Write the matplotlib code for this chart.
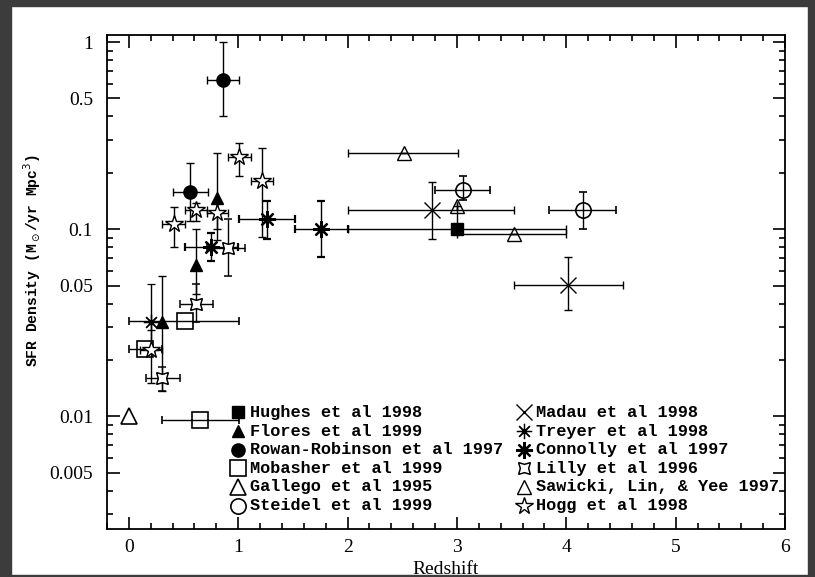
import matplotlib
matplotlib.use("Agg")
import matplotlib.pyplot as plt
import numpy as np
from matplotlib.patches import Rectangle

# values: redshift, SFR density and error limits
hughes_z = [3.0]
hughes_sfr = [0.100]
hughes_zlo = [2.0]
hughes_zhi = [4.0]

flores_z = [0.30, 0.61, 0.81]
flores_sfr = [0.032, 0.064, 0.147]
flores_lo = [0.0136, 0.045, 0.087]
flores_hi = [0.056, 0.100, 0.255]

rowan_z = [0.56, 0.86]
rowan_sfr = [0.158, 0.63]
rowan_zlo = [0.40, 0.71]
rowan_zhi = [0.72, 1.01]
rowan_lo = [0.11, 0.40]
rowan_hi = [0.226, 1.0]

mobasher_z = [0.15, 0.51, 0.654]
mobasher_sfr = [0.0229, 0.0325, 0.0096]
mobasher_zlo = [0.0, 0.0, 0.30]
mobasher_zhi = [0.30, 1.01, 1.01]

gallego_z = [0.0]
gallego_sfr = [0.0101]

steidel_z = [3.06, 4.15]
steidel_sfr = [0.162, 0.126]
steidel_zlo = [2.80, 3.84]
steidel_zhi = [3.30, 4.45]
steidel_lo = [0.143, 0.100]
steidel_hi = [0.193, 0.158]

madau_z = [2.77, 4.02]
madau_sfr = [0.126, 0.0506]
madau_zlo = [2.0, 3.52]
madau_zhi = [3.52, 4.52]
madau_lo = [0.089, 0.037]
madau_hi = [0.179, 0.0706]

treyer_z = [0.20]
treyer_sfr = [0.032]
treyer_lo = [0.022]
treyer_hi = [0.051]

connolly_z = [0.75, 1.26, 1.76]
connolly_sfr = [0.080, 0.113, 0.100]
connolly_zlo = [0.51, 1.01, 1.52]
connolly_zhi = [1.00, 1.52, 2.00]
connolly_lo = [0.068, 0.089, 0.0706]
connolly_hi = [0.095, 0.141, 0.141]

lilly_z = [0.30, 0.61, 0.905]
lilly_sfr = [0.016, 0.040, 0.079]
lilly_zlo = [0.156, 0.47, 0.71]
lilly_zhi = [0.47, 0.77, 1.06]
lilly_lo = [0.0136, 0.032, 0.056]
lilly_hi = [0.0184, 0.051, 0.113]

sawicki_z = [2.52, 3.0, 3.52]
sawicki_sfr = [0.254, 0.133, 0.094]
sawicki_zlo = [2.0, 3.0, 3.0]
sawicki_zhi = [3.01, 3.0, 4.0]
sawicki_lo = [0.254, 0.100, 0.094]
sawicki_hi = [0.254, 0.133, 0.094]

hogg_z = [0.20, 0.41, 0.61, 0.81, 1.01, 1.22]
hogg_sfr = [0.0225, 0.106, 0.126, 0.122, 0.244, 0.18]
hogg_zlo = [0.10, 0.30, 0.51, 0.71, 0.91, 1.12]
hogg_zhi = [0.30, 0.51, 0.71, 0.91, 1.12, 1.32]
hogg_lo = [0.015, 0.080, 0.110, 0.100, 0.193, 0.091]
hogg_hi = [0.029, 0.132, 0.138, 0.140, 0.290, 0.273]

left_labels = ["Hughes et al 1998", "Flores et al 1999", "Rowan-Robinson et al 1997",
               "Mobasher et al 1999", "Gallego et al 1995", "Steidel et al 1999"]
right_labels = ["Madau et al 1998", "Treyer et al 1998", "Connolly et al 1997",
                "Lilly et al 1996", "Sawicki, Lin, & Yee 1997", "Hogg et al 1998"]

yticks = [1, 0.5, 0.1, 0.05, 0.01, 0.005]
ytick_labels = ["1", "0.5", "0.1", "0.05", "0.01", "0.005"]
xticks = [0, 1, 2, 3, 4, 5, 6]

# marker styles
K = "black"
asterisk = (8, 2, 0)
styles = {
    "hughes": dict(marker="s", ms=8, mfc=K, mec=K),
    "flores": dict(marker="^", ms=9, mfc=K, mec=K),
    "rowan": dict(marker="o", ms=9.5, mfc=K, mec=K),
    "mobasher": dict(marker="s", ms=11, mfc="none", mec=K, mew=1.2),
    "gallego": dict(marker="^", ms=12, mfc="none", mec=K, mew=1.2),
    "steidel": dict(marker="o", ms=11, mfc="none", mec=K, mew=1.2),
    "madau": dict(marker="x", ms=12, mfc="none", mec=K, mew=1.0),
    "treyer": dict(marker=asterisk, ms=11, mfc="none", mec=K, mew=0.9),
    "connolly": dict(marker=asterisk, ms=12, mfc="none", mec=K, mew=1.6),
    "lilly": dict(marker=(4, 1, 45), ms=12, mfc="white", mec=K, mew=1.1),
    "sawicki": dict(marker="^", ms=10, mfc="none", mec=K, mew=1.0),
    "hogg": dict(marker="*", ms=13, mfc="white", mec=K, mew=1.0),
}

plt.rcParams["font.family"] = ["Liberation Serif", "DejaVu Serif"]

fig = plt.figure(figsize=(8.15, 5.77), dpi=100)
fig.patch.set_facecolor("white")
ax = fig.add_axes([107 / 815, 1 - 529 / 577, 678 / 815, 494 / 577])


def err(vals, lo, hi):
    vals = np.asarray(vals, float)
    return [vals - np.asarray(lo, float), np.asarray(hi, float) - vals]


def draw(z, sfr, style, zlo=None, zhi=None, lo=None, hi=None):
    xe = err(z, zlo, zhi) if zlo is not None else None
    ye = err(sfr, lo, hi) if lo is not None else None
    ax.errorbar(z, sfr, xerr=xe, yerr=ye, ls="none", ecolor=K, elinewidth=1.0,
                capsize=3, capthick=1.0, zorder=3, **styles[style])


draw(hughes_z, hughes_sfr, "hughes", hughes_zlo, hughes_zhi)
draw(flores_z, flores_sfr, "flores", lo=flores_lo, hi=flores_hi)
draw(rowan_z, rowan_sfr, "rowan", rowan_zlo, rowan_zhi, rowan_lo, rowan_hi)
draw(mobasher_z, mobasher_sfr, "mobasher", mobasher_zlo, mobasher_zhi)
draw(gallego_z, gallego_sfr, "gallego")
draw(steidel_z, steidel_sfr, "steidel", steidel_zlo, steidel_zhi, steidel_lo, steidel_hi)
draw(madau_z, madau_sfr, "madau", madau_zlo, madau_zhi, madau_lo, madau_hi)
draw(treyer_z, treyer_sfr, "treyer", lo=treyer_lo, hi=treyer_hi)
draw(connolly_z, connolly_sfr, "connolly", connolly_zlo, connolly_zhi, connolly_lo, connolly_hi)
draw(lilly_z, lilly_sfr, "lilly", lilly_zlo, lilly_zhi, lilly_lo, lilly_hi)
draw(sawicki_z, sawicki_sfr, "sawicki", sawicki_zlo, sawicki_zhi, sawicki_lo, sawicki_hi)
draw(hogg_z, hogg_sfr, "hogg", hogg_zlo, hogg_zhi, hogg_lo, hogg_hi)

# small filled centres of the asterisk symbols
ax.plot(treyer_z, treyer_sfr, "o", ms=3, color=K, zorder=4)
ax.plot(connolly_z, connolly_sfr, "o", ms=5, color=K, zorder=4)

# hand-placed legend, like the original
leg_y = 10 ** (-1.979 - 0.0995 * np.arange(6))
left_keys = ["hughes", "flores", "rowan", "mobasher", "gallego", "steidel"]
right_keys = ["madau", "treyer", "connolly", "lilly", "sawicki", "hogg"]
for col_x, keys, labels in [(1.0, left_keys, left_labels), (3.61, right_keys, right_labels)]:
    for yy, key, lab in zip(leg_y, keys, labels):
        ax.plot(col_x, yy, ls="none", zorder=4, **styles[key])
        if key == "treyer":
            ax.plot(col_x, yy, "o", ms=3, color=K, zorder=5)
        if key == "connolly":
            ax.plot(col_x, yy, "o", ms=5, color=K, zorder=5)
        ax.text(col_x + 0.11, yy, lab, fontsize=12.2, family="Liberation Mono",
                fontweight="bold", va="center", ha="left", zorder=4)

ax.set_yscale("log")
ax.set_xlim(-0.2, 6.0)
ax.set_ylim(0.0025, 1.09)

ax.set_xticks(xticks)
ax.set_xticklabels([str(t) for t in xticks])
ax.set_xticks(np.arange(-0.2, 6.01, 0.2), minor=True)
ax.set_yticks(yticks)
ax.set_yticklabels(ytick_labels)
minor_y = [m * 10.0 ** e for e in (-3, -2, -1) for m in range(2, 10)
           if not np.isclose(m * 10.0 ** e, yticks).any()]
ax.set_yticks([v for v in minor_y if v >= 0.0025], minor=True)
ax.yaxis.set_minor_formatter(matplotlib.ticker.NullFormatter())

ax.tick_params(which="both", direction="in", top=True, right=True, width=1.2, colors=K)
ax.tick_params(which="major", length=9, labelsize=14)
ax.tick_params(which="minor", length=4.3)
ax.tick_params(axis="y", which="major", pad=10)
ax.tick_params(axis="x", which="major", pad=7)
for s in ax.spines.values():
    s.set_linewidth(1.3)

fig.text(32 / 815, 1 - 261 / 577, r"SFR Density (M$_\odot$/yr Mpc$^3$)", rotation=90,
         ha="center", va="center", fontsize=10.5, family="Liberation Mono", fontweight="bold")
fig.text(446 / 815, 1 - 569 / 577, "Redshift", ha="center", va="center", fontsize=14)

# dark screenshot frame around the white page
dark = "#3c3c3c"
W, H = 815, 577
for (x0, y0, w, h) in [(0, 0, 11, H), (808, 0, 7, H), (0, 0, W, 6), (0, 575, W, 2)]:
    fig.add_artist(Rectangle((x0 / W, 1 - (y0 + h) / H), w / W, h / H,
                             transform=fig.transFigure, color=dark, zorder=10))

fig.savefig("out.png", dpi=100)
